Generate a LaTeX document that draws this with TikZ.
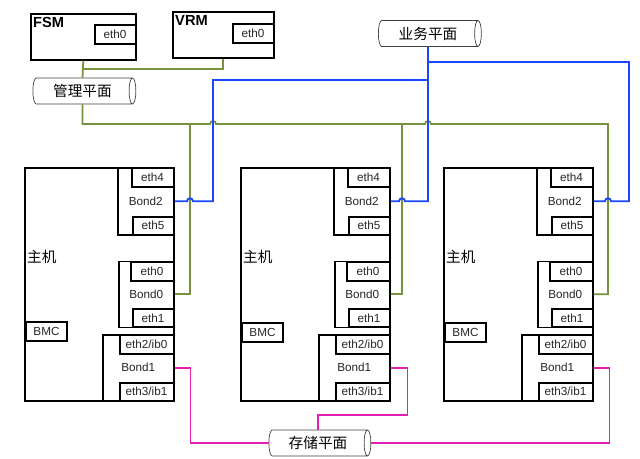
\documentclass[tikz,border=0pt]{standalone}
\usepackage{fontspec}
\setmainfont{Liberation Sans}
\newfontfamily\cjk{Noto Sans CJK SC}
\usetikzlibrary{positioning,shapes,calc}

\definecolor{mgmtgreen}{RGB}{118,146,60}
\definecolor{bizblue}{RGB}{25,70,255}
\definecolor{storpink}{RGB}{228,30,178}

\begin{document}
\begin{tikzpicture}[x=0.03cm, y=-0.03cm,
    unit/.style={rectangle, draw, line width=1.3pt, minimum width=3.15cm, minimum height=1.38cm, anchor=north west, inner sep=0},
    unitname/.style={font=\bfseries\fontsize{12.5}{14}\selectfont, inner sep=0},
    host/.style={rectangle, draw, line width=1.3pt, minimum width=4.47cm, minimum height=6.99cm, anchor=north west, inner sep=0},
    hostname/.style={font=\cjk\fontsize{12.5}{14}\selectfont, anchor=west, inner sep=0},
    bond/.style={rectangle, draw, line width=1.3pt, minimum width=1.68cm, minimum height=2.01cm, inner sep=0, text=black!85, font=\fontsize{10}{12}\selectfont},
    port/.style={rectangle, draw, fill=white, line width=1.7pt, minimum width=1.26cm, minimum height=0.57cm, inner sep=0, text=black!85, font=\fontsize{10}{12}\selectfont},
    plane/.style={cylinder, draw=black!75, fill=white, line width=0.6pt, shape aspect=0.5, minimum height=3.09cm, minimum width=0.78cm, inner sep=0, font=\cjk\fontsize{12.5}{14}\selectfont},
    mgmt/.style={draw=mgmtgreen, line width=1.5pt},
    biz/.style={draw=bizblue, line width=1.6pt},
    stor/.style={draw=storpink, line width=1.5pt}]

    \useasboundingbox (0,0) rectangle (640,459);

    % FSM and VRM
    \node[unit] (fsm) at (30,13) {};
    \node[unitname, below right=0.12cm and 0.09cm of fsm.north west] {FSM};
    \node[port, anchor=north east, minimum width=1.23cm] (fsm_eth0) at ($(fsm.north east)+(0,11)$) {eth0};
    \node[unit, minimum width=3.03cm] (vrm) at (172,11) {};
    \node[unitname, below right=0.12cm and 0.09cm of vrm.north west] {VRM};
    \node[port, anchor=north east, minimum width=1.23cm] (vrm_eth0) at ($(vrm.north east)+(0,12)$) {eth0};

    % Planes
    \node[plane] (mgmtpl) at (82.5,91) {管理平面};
    \node[plane] (bizpl) at (428,33.5) {业务平面};
    \node[plane, minimum height=3.06cm] (storpl) at (318,443) {存储平面};

    % Host 1
    \node[host] (h1) at (24,167) {};
    \node[hostname] at ($(h1.north west)+(3,90)$) {主机};
    \node[bond, anchor=north east] (h1_bond2) at (h1.north east) {Bond2};
    \node[port, anchor=north east] (h1_eth4) at (h1_bond2.north east) {eth4};
    \node[port, anchor=south east, minimum width=1.23cm, minimum height=0.54cm] (h1_eth5) at (h1_bond2.south east) {eth5};
    \node[bond, minimum width=1.65cm, minimum height=1.98cm, below=0.75cm of h1_bond2.south east, anchor=north east] (h1_bond0) {Bond0};
    \node[port, anchor=north east, minimum width=1.29cm] (h1_eth0) at (h1_bond0.north east) {eth0};
    \node[port, anchor=south east, minimum width=1.23cm, minimum height=0.54cm] (h1_eth1) at (h1_bond0.south east) {eth1};
    \node[bond, anchor=south east, minimum width=2.13cm, minimum height=1.98cm] (h1_bond1) at (h1.south east) {Bond1};
    \node[port, anchor=north east, minimum width=1.62cm] (h1_eth2) at (h1_bond1.north east) {eth2/ib0};
    \node[port, anchor=south east, minimum width=1.62cm, minimum height=0.54cm] (h1_eth3) at (h1_bond1.south east) {eth3/ib1};
    \node[port, anchor=north west, minimum width=1.23cm] (h1_bmc) at ($(h1.north west)+(1,154)$) {BMC};

    % Host 2
    \node[host] (h2) at (240,167) {};
    \node[hostname] at ($(h2.north west)+(3,90)$) {主机};
    \node[bond, anchor=north east] (h2_bond2) at (h2.north east) {Bond2};
    \node[port, anchor=north east] (h2_eth4) at (h2_bond2.north east) {eth4};
    \node[port, anchor=south east, minimum width=1.23cm, minimum height=0.54cm] (h2_eth5) at (h2_bond2.south east) {eth5};
    \node[bond, minimum width=1.65cm, minimum height=1.98cm, below=0.75cm of h2_bond2.south east, anchor=north east] (h2_bond0) {Bond0};
    \node[port, anchor=north east, minimum width=1.29cm] (h2_eth0) at (h2_bond0.north east) {eth0};
    \node[port, anchor=south east, minimum width=1.23cm, minimum height=0.54cm] (h2_eth1) at (h2_bond0.south east) {eth1};
    \node[bond, anchor=south east, minimum width=2.13cm, minimum height=1.98cm] (h2_bond1) at (h2.south east) {Bond1};
    \node[port, anchor=north east, minimum width=1.62cm] (h2_eth2) at (h2_bond1.north east) {eth2/ib0};
    \node[port, anchor=south east, minimum width=1.62cm, minimum height=0.54cm] (h2_eth3) at (h2_bond1.south east) {eth3/ib1};
    \node[port, anchor=north west, minimum width=1.23cm] (h2_bmc) at ($(h2.north west)+(1,155)$) {BMC};

    % Host 3
    \node[host] (h3) at (443,167) {};
    \node[hostname] at ($(h3.north west)+(3,90)$) {主机};
    \node[bond, anchor=north east] (h3_bond2) at (h3.north east) {Bond2};
    \node[port, anchor=north east] (h3_eth4) at (h3_bond2.north east) {eth4};
    \node[port, anchor=south east, minimum width=1.23cm, minimum height=0.54cm] (h3_eth5) at (h3_bond2.south east) {eth5};
    \node[bond, minimum width=1.65cm, minimum height=1.98cm, below=0.75cm of h3_bond2.south east, anchor=north east] (h3_bond0) {Bond0};
    \node[port, anchor=north east, minimum width=1.29cm] (h3_eth0) at (h3_bond0.north east) {eth0};
    \node[port, anchor=south east, minimum width=1.23cm, minimum height=0.54cm] (h3_eth1) at (h3_bond0.south east) {eth1};
    \node[bond, anchor=south east, minimum width=2.13cm, minimum height=1.98cm] (h3_bond1) at (h3.south east) {Bond1};
    \node[port, anchor=north east, minimum width=1.62cm] (h3_eth2) at (h3_bond1.north east) {eth2/ib0};
    \node[port, anchor=south east, minimum width=1.62cm, minimum height=0.54cm] (h3_eth3) at (h3_bond1.south east) {eth3/ib1};
    \node[port, anchor=north west, minimum width=1.23cm] (h3_bmc) at ($(h3.north west)+(1,155)$) {BMC};

    % Bus points
    \coordinate (m_join) at (82.5,69);
    \coordinate (m1) at (190,124);
    \coordinate (m2) at (402,124);
    \coordinate (m3) at (608,124);
    \coordinate (b1) at (213,80);
    \coordinate (b3) at (629,62);

    % Management plane
    \draw[mgmt] (fsm.south) -- (mgmtpl.north);
    \draw[mgmt] (vrm.south) |- (m_join);
    \draw[mgmt] (mgmtpl.south) |- ($(b1 |- m1)+(-3,0)$) arc[start angle=180, end angle=0, radius=0.09cm]
        -- ($(bizpl.south |- m1)+(-3,0)$) arc[start angle=180, end angle=0, radius=0.09cm]
        -- (m3) |- (h3_bond0.east);
    \draw[mgmt] (m1) |- (h1_bond0.east);
    \draw[mgmt] (m2) |- (h2_bond0.east);

    % Service plane
    \draw[biz] (bizpl.south) |- ($(m2 |- h2_bond2.east)+(3,0)$) arc[start angle=0, end angle=180, radius=0.09cm] -- (h2_bond2.east);
    \draw[biz] (bizpl.south |- b1) -- (b1) |- ($(m1 |- h1_bond2.east)+(3,0)$) arc[start angle=0, end angle=180, radius=0.09cm] -- (h1_bond2.east);
    \draw[biz] (bizpl.south |- b3) -- (b3) |- ($(m3 |- h3_bond2.east)+(3,0)$) arc[start angle=0, end angle=180, radius=0.09cm] -- (h3_bond2.east);

    % Storage plane
    \draw[stor] (h1_bond1.east) -- ++(16,0) |- (storpl.west);
    \draw[stor] (h2_bond1.east) -- ++(17,0) -- ++(0,47) -| (storpl.north);
    \draw[stor] (h3_bond1.east) -- ++(16,0) |- (storpl.east);
\end{tikzpicture}
\end{document}
